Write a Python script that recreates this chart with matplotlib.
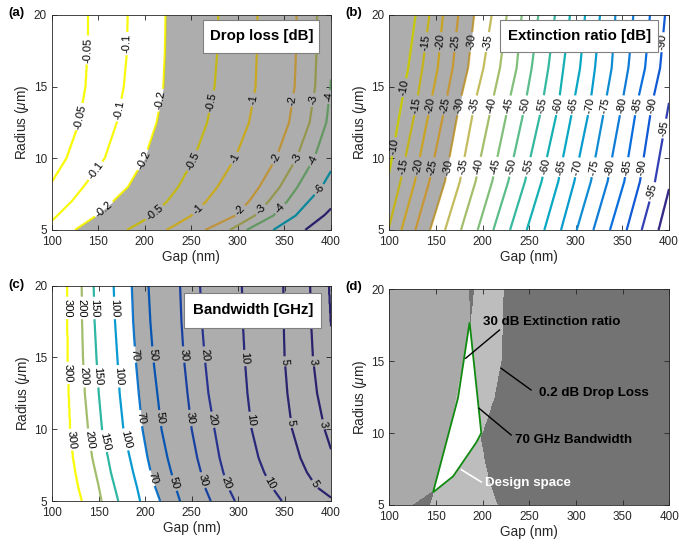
import numpy as np
import matplotlib
matplotlib.use('Agg')
import matplotlib.pyplot as plt
from matplotlib.colors import LinearSegmentedColormap, Normalize, ListedColormap
from matplotlib.patches import Rectangle, Polygon

# ---------------- data ----------------
GAP_TICKS = [100, 150, 200, 250, 300, 350, 400]
RADIUS_TICKS = [5, 10, 15, 20]

# (a) drop loss: gap (nm) of each contour level at the sampled radii
DROP_RADII = [5, 6, 7, 8, 10, 12.5, 15, 17.5, 20]
DROP_LEVELS = [-0.05, -0.1, -0.2, -0.5, -1, -2, -3, -4, -6, -10]
DROP_GAPS = [
    [68, 78, 88, 97, 116, 129.7, 136.5, 138.7, 139.4],
    [90, 106, 121.5, 134, 157, 170, 177.5, 181, 181.6],
    [125, 148, 166, 182, 200, 212.8, 220, 221.7, 222.4],
    [181, 208, 224, 236, 253, 267, 275, 278, 279],
    [223.5, 250, 266, 278, 297, 312, 319, 320.5, 321],
    [265, 297, 312, 323, 341, 355, 361, 362.5, 363],
    [291.5, 318, 333, 345, 363, 377, 383, 384.5, 385],
    [309.5, 338, 353, 364, 382, 395, 399.5, 402, 403],
    [338, 362, 376, 390, 408, 415, 420, 424, 425],
    [372, 392, 408, 420, 440, 450, 455, 458, 460],
]

# (b) extinction ratio
ER_RADII = [5, 8.4, 13.7, 16.3, 20]
ER_LEVELS = [-10, -15, -20, -25, -30, -35, -40, -45, -50, -55,
             -60, -65, -70, -75, -80, -85, -90, -95, -100]
ER_GAPS = [
    [84, 98.5, 113, 120.5, 128.5],
    [99, 112, 129, 135.5, 143],
    [113, 127.5, 144, 152, 157.5],
    [128, 143, 160, 168, 174],
    [143.7, 159.8, 175, 184.5, 191],
    [159.8, 175.8, 191.2, 201, 209.8],
    [176.9, 192.6, 209.8, 218.7, 226],
    [194.8, 210.5, 227.7, 236.6, 242],
    [211.6, 227.7, 245.6, 252.7, 259.9],
    [229.5, 245.6, 264, 270.6, 277.7],
    [247.4, 263.4, 281.4, 286.7, 293.8],
    [266.3, 281.3, 297.4, 304.6, 310],
    [284.2, 298.5, 315.3, 320.6, 326],
    [301, 316.3, 331.4, 338.5, 342.5],
    [318.9, 334.2, 349.3, 356.4, 361.8],
    [336.7, 352.1, 365.4, 374.3, 379.6],
    [354.6, 368.9, 381.5, 390.4, 395.7],
    [370.7, 385, 399.5, 407, 413],
    [388.6, 402, 416, 424, 430],
]

# (c) bandwidth
BW_RADII = [5, 6, 7, 8, 10, 12.5, 15, 17.5, 20]
BW_LEVELS = [300, 200, 150, 100, 70, 50, 30, 20, 10, 5, 3, 2]
BW_GAPS = [
    [132, 128, 125, 122.5, 119.5, 117.8, 116.8, 116.3, 116.2],
    [153, 150, 146.5, 143, 138.5, 135, 133, 132, 131.6],
    [171, 167, 163, 160, 153.5, 150, 147.5, 145.5, 144.5],
    [194.5, 191, 187, 183.5, 176.5, 172.5, 170, 167.5, 166],
    [216, 210.5, 206, 202.5, 197, 193, 189.5, 187, 185.5],
    [237.5, 232.5, 228, 224, 217.5, 213, 208.5, 205.5, 203.5],
    [270.5, 264, 260, 256, 250, 245.5, 241.5, 239, 237.5],
    [296.5, 289, 284, 280, 274.5, 268, 264, 261, 259],
    [347, 336, 328, 322, 314.5, 310, 307, 305, 304],
    [405, 384, 374, 367, 358, 353, 350, 349, 348.6],
    [440, 425, 412, 403, 393, 385, 380.5, 378.5, 377.5],
    [480, 460, 446, 436, 422, 410, 403, 399.5, 397.5],
]

# criteria used in (d)
ER_LIMIT = -30
DROP_LIMIT = -0.2
BW_LIMIT = 70

# (d) design-space polygon
DESIGN_GAP = [186.0, 198.5, 193.2, 168.3, 146.9, 173.6]
DESIGN_R = [17.69, 10.0, 9.35, 6.99, 5.88, 12.43]

TITLES = ['Drop loss [dB]', 'Extinction ratio [dB]', 'Bandwidth [GHz]']
D_NOTES = ['30 dB Extinction ratio', '0.2 dB Drop Loss', '70 GHz Bandwidth', 'Design space']

# ---------------- label placement (layout) ----------------
DROP_LABEL_POS = [
    (134, 17.56), (130.4, 12.9),
    (182.3, 18.0), (171.6, 13.37), (148.3, 9.07),
    (216.4, 14.07), (198.5, 9.88), (155.5, 6.51),
    (273.6, 13.93), (253.9, 9.74), (212.8, 6.05),
    (318.4, 14.05), (296.9, 9.98), (255.7, 6.49),
    (359.5, 14.05), (341.6, 9.98), (300.5, 6.49),
    (382.8, 14.05), (363.1, 9.98), (323.7, 6.49),
    (397.5, 14.28), (381, 9.86), (345.2, 6.49),
    (386.4, 7.88),
]
ER_LABEL_POS = (
    [(138.3, 18.1), (155.5, 18.1), (171.2, 18.1), (189.1, 18.1), (206.2, 18.1), (392.9, 18.1)]
    + [(116.8, 14.9)]
    + [(g, 13.7) for g in [129.4, 143.7, 159.8, 174.8, 191.2, 209.8, 227.7, 245.6, 265.3,
                          281.4, 297.4, 315.3, 331.4, 349.3, 365.4, 381.5]]
    + [(395.8, 12.07), (106, 10.8)]
    + [(g, 9.4) for g in [116.9, 131.2, 145.4, 161.5, 179.4, 197.3, 215.2, 231.3, 249.2,
                         267, 283.1, 299.2, 317.1, 335, 352.9, 368.9]]
    + [(381.4, 7.67)]
)
BW_LABEL_POS = [
    (115.4, 18.45), (115.4, 13.92), (120.8, 9.28),
    (131.6, 18.45), (133.4, 13.69), (140.6, 9.28),
    (145.9, 18.45), (147.7, 13.69), (154.9, 9.16),
    (167.5, 18.45), (171.1, 13.69), (178.2, 9.28),
    (189, 15.2), (196.2, 10.78), (208.7, 6.6),
    (207, 15.2), (215.9, 10.78), (232, 6.26),
    (241, 15.2), (248.2, 10.78), (262.5, 6.46),
    (264.3, 15.2), (273.3, 10.67), (287.7, 6.26),
    (307.4, 14.96), (316.4, 10.67), (334.3, 6.26),
    (350.4, 14.73), (357.6, 10.44), (384.5, 6.26),
    (381, 14.73), (390, 10.32),
]

# ---------------- style ----------------
plt.rcParams.update({
    'font.family': ['Liberation Sans', 'DejaVu Sans'],
    'mathtext.fontset': 'custom',
    'mathtext.rm': 'Liberation Sans',
    'mathtext.it': 'Liberation Sans:italic',
    'mathtext.bf': 'Liberation Sans:bold',
})

_parula = [
    (0.2081, 0.1663, 0.5292), (0.1959, 0.2645, 0.7279), (0.0117, 0.3875, 0.8820),
    (0.0498, 0.4586, 0.8641), (0.0793, 0.5200, 0.8312), (0.0343, 0.5966, 0.8199),
    (0.0228, 0.6535, 0.7768), (0.0843, 0.6928, 0.7062), (0.2178, 0.7250, 0.6193),
    (0.3953, 0.7459, 0.5244), (0.5709, 0.7485, 0.4494), (0.7184, 0.7411, 0.3905),
    (0.8507, 0.7299, 0.3360), (0.9739, 0.7314, 0.2666), (0.9880, 0.8066, 0.1794),
    (0.9589, 0.8949, 0.1132), (0.9763, 0.9831, 0.0538)]
_pos = [0, 4, 8, 12, 16, 20, 24, 28, 32, 36, 40, 44, 48, 52, 56, 60, 63]
PARULA = LinearSegmentedColormap.from_list('parula', [(p / 63, c) for p, c in zip(_pos, _parula)])

TXT = '#262626'


def style(ax):
    ax.set_xlim(100, 400)
    ax.set_ylim(5, 20)
    ax.set_xticks(GAP_TICKS)
    ax.set_yticks(RADIUS_TICKS)
    ax.tick_params(direction='in', top=True, right=True, length=3.5, width=0.6,
                   labelsize=8.5, colors=TXT)
    ax.tick_params(axis='x', pad=4.5)
    ax.tick_params(axis='y', pad=3.5)
    for s in ax.spines.values():
        s.set_color(TXT)
        s.set_linewidth(0.6)
    ax.set_xlabel('Gap (nm)', fontsize=9.8, color=TXT, labelpad=1.0)
    ax.set_ylabel(r'Radius ($\mu$m)', fontsize=9.8, color=TXT, labelpad=1.5)


GX = np.linspace(100, 400, 601)
RY = np.linspace(5, 20, 451)


def build_field(radii, gaps, levels, lo, hi):
    pos = np.array([np.interp(RY, radii, row) for row in gaps])
    fp = np.concatenate([[lo], levels, [hi]])
    Z = np.empty((RY.size, GX.size))
    for j in range(RY.size):
        xp = np.concatenate([[-2000.0], pos[:, j], [3000.0]])
        Z[j] = np.interp(GX, xp, fp)
    return Z


def contour_panel(ax, radii, levels, gaps, lo, hi, vmin, vmax, limit, side,
                  label_pos, title, box):
    Z = build_field(radii, gaps, levels, lo, hi)
    bnd = np.interp(RY, radii, gaps[levels.index(limit)])
    if side == 'right':
        x1, x2 = bnd, np.full_like(bnd, 400)
    else:
        x1, x2 = np.full_like(bnd, 100), bnd
    ax.fill_betweenx(RY, x1, x2, color='#d9d9d9', lw=0, zorder=0.5)
    cs = ax.contour(GX, RY, Z, levels=sorted(levels), cmap=PARULA,
                    norm=Normalize(vmin, vmax), linewidths=1.6, zorder=2)
    ax.clabel(cs, inline=True, inline_spacing=2, fmt=lambda v: f'{v:g}',
              fontsize=8, colors='k', manual=label_pos)
    ax.fill_betweenx(RY, x1, x2, color='k', alpha=0.2, lw=0, zorder=2.5)
    bx, by, bw, bh = box
    ax.add_patch(Rectangle((bx, by), bw, bh, transform=ax.transAxes, fc='white',
                           ec='#808080', lw=0.8, zorder=8))
    ax.text(bx + bw / 2, by + bh / 2, title, transform=ax.transAxes, ha='center',
            va='center', fontsize=10.8, fontweight='bold', color='k', zorder=9)
    style(ax)


fig = plt.figure(figsize=(6.79, 5.45), dpi=100)
axA = fig.add_axes([0.0761, 0.578, 0.4114, 0.3945])
axB = fig.add_axes([0.5733, 0.578, 0.4120, 0.3945])
axC = fig.add_axes([0.0770, 0.0807, 0.4105, 0.3951])
axD = fig.add_axes([0.5733, 0.0734, 0.4127, 0.3963])

contour_panel(axA, DROP_RADII, DROP_LEVELS, DROP_GAPS, 0.0, -20.0, -10, -0.05,
              DROP_LIMIT, 'right', DROP_LABEL_POS, TITLES[0], (0.543, 0.825, 0.415, 0.15))
contour_panel(axB, ER_RADII, ER_LEVELS, ER_GAPS, 0.0, -130.0, -100, -10,
              ER_LIMIT, 'left', ER_LABEL_POS, TITLES[1], (0.396, 0.829, 0.566, 0.148))
contour_panel(axC, BW_RADII, BW_LEVELS, BW_GAPS, 500.0, 0.0, 3, 300,
              BW_LIMIT, 'right', BW_LABEL_POS, TITLES[2], (0.474, 0.804, 0.49, 0.162))

# ---------------- (d) design space ----------------
gx = np.linspace(100, 400, 1201)
ry = np.linspace(5, 20, 901)
GXX, RYY = np.meshgrid(gx, ry)
er_b = np.interp(ry, ER_RADII, ER_GAPS[ER_LEVELS.index(ER_LIMIT)])[:, None]
dl_b = np.interp(ry, DROP_RADII, DROP_GAPS[DROP_LEVELS.index(DROP_LIMIT)])[:, None]
bw_b = np.interp(ry, BW_RADII, BW_GAPS[BW_LEVELS.index(BW_LIMIT)])[:, None]
er_fail = GXX < er_b
dl_fail = GXX > dl_b
bw_fail = GXX > bw_b
nfail = er_fail.astype(int) + dl_fail.astype(int) + bw_fail.astype(int)
cat = np.where(nfail >= 2, 2, np.where(er_fail, 1, 0))
axD.imshow(cat, origin='lower', extent=[100, 400, 5, 20], aspect='auto',
           cmap=ListedColormap(['#bdbdbd', '#a9a9a9', '#737373']), vmin=-0.5, vmax=2.5,
           interpolation='nearest', zorder=0)
axD.add_patch(Polygon(np.column_stack([DESIGN_GAP, DESIGN_R]), closed=True, fc='white',
                      ec='#108a10', lw=1.3, zorder=3))
axD.plot([181.8, 218], [15.19, 17.15], color='k', lw=1.0, zorder=4)
axD.plot([219.8, 251.8], [14.49, 12.99], color='k', lw=1.0, zorder=4)
axD.plot([196, 230.5], [11.72, 9.86], color='k', lw=1.0, zorder=4)
axD.plot([177.2, 198.5], [7.45, 6.6], color='white', lw=1.2, zorder=4)
axD.text(200, 17.73, D_NOTES[0], ha='left', va='center', fontsize=9.6, fontweight='bold', color='k', zorder=5)
axD.text(259.9, 12.8, D_NOTES[1], ha='left', va='center', fontsize=9.6, fontweight='bold', color='k', zorder=5)
axD.text(234.7, 9.51, D_NOTES[2], ha='left', va='center', fontsize=9.6, fontweight='bold', color='k', zorder=5)
axD.text(202.7, 6.51, D_NOTES[3], ha='left', va='center', fontsize=9.6, fontweight='bold', color='white', zorder=5)
style(axD)

for lab, (px, py) in zip(['(a)', '(b)', '(c)', '(d)'],
                         [(16, 13), (354, 13), (16, 285), (354, 287)]):
    fig.text(px / 679, 1 - py / 545, lab, ha='center', va='center', fontsize=9.5,
             fontweight='bold', color='k')

fig.savefig('out.png', dpi=100)
